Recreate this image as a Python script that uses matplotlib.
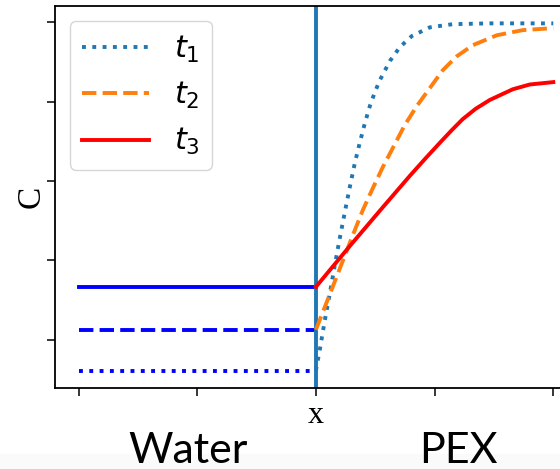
import matplotlib.pyplot as plt
from matplotlib.patches import Rectangle

# water side: constant level from x=-2 up to the interface at x=0
water_x = [-2, 0]
water_c = [0.122, 0.225, 0.333]  # t1, t2, t3

# PEX side profiles
t1_x = [0, 0.034, 0.076, 0.118, 0.160, 0.202, 0.244, 0.286, 0.328, 0.371, 0.413, 0.455,
        0.497, 0.539, 0.623, 0.707, 0.808, 0.960, 1.154, 1.465, 2.0]
t1_c = [0.122, 0.177, 0.250, 0.318, 0.389, 0.457, 0.522, 0.585, 0.645, 0.698, 0.746, 0.789,
        0.824, 0.854, 0.902, 0.937, 0.965, 0.987, 0.995, 0.997, 0.997]

t2_x = [0, 0.135, 0.227, 0.312, 0.396, 0.480, 0.564, 0.648, 0.749, 0.851, 0.960, 1.069,
        1.187, 1.322, 1.524, 1.743, 2.0]
t2_c = [0.225, 0.328, 0.399, 0.464, 0.527, 0.582, 0.635, 0.683, 0.741, 0.789, 0.834, 0.879,
        0.914, 0.942, 0.967, 0.980, 0.985]

t3_x = [0, 0.286, 0.539, 0.792, 0.918, 1.044, 1.145, 1.238, 1.347, 1.465, 1.659, 1.802, 2.0]
t3_c = [0.333, 0.436, 0.525, 0.613, 0.655, 0.696, 0.728, 0.756, 0.782, 0.804, 0.831, 0.843, 0.849]

labels = ['$t_1$', '$t_2$', '$t_3$']
xticks = [-2, -1, 0, 1, 2]
xticklabels = ['', '', 'x', '', '']

lw = 2.8
styles = [':', '--', '-']

fig = plt.figure(figsize=(5.6, 4.69), dpi=100)
# very faint grey strip at the bottom (slide background)
fig.patches.append(Rectangle((0, 0), 1, 15 / 469, transform=fig.transFigure,
                             color='#fafafa', zorder=0))

# axes runs past the right edge of the picture, like the cropped original
ax = fig.add_axes([0.0978, 0.1727, 0.9326, 0.8145])

for c, ls in zip(water_c, styles):
    ax.plot(water_x, [c, c], color='b', ls=ls, lw=lw)

ax.axvline(0, color='C0', lw=lw)

h1, = ax.plot(t1_x, t1_c, color='C0', ls=':', lw=lw)
h2, = ax.plot(t2_x, t2_c, color='C1', ls='--', lw=lw)
h3, = ax.plot(t3_x, t3_c, color='r', ls='-', lw=lw)

ax.legend([h1, h2, h3], labels, loc='upper left', fontsize=22, handlelength=2.2)

ax.set_xticks(xticks)
ax.set_xticklabels(xticklabels, family='Liberation Serif', fontsize=23)
ax.set_yticks([0.2, 0.4, 0.6, 0.8, 1.0])
ax.set_yticklabels([])
ax.tick_params(length=5.8, width=1.1, pad=3.5)
for s in ax.spines.values():
    s.set_linewidth(1.3)

ax.set_ylabel('C', family='Liberation Serif', fontsize=24)
ax.yaxis.set_label_coords(-0.015, 0.5)

fig.text(188 / 560, 6 / 469, 'Water', family='Lato', fontsize=31, ha='center', va='baseline')
fig.text(458 / 560, 6 / 469, 'PEX', family='Lato', fontsize=31, ha='center', va='baseline')

fig.savefig('out.png', dpi=100)
